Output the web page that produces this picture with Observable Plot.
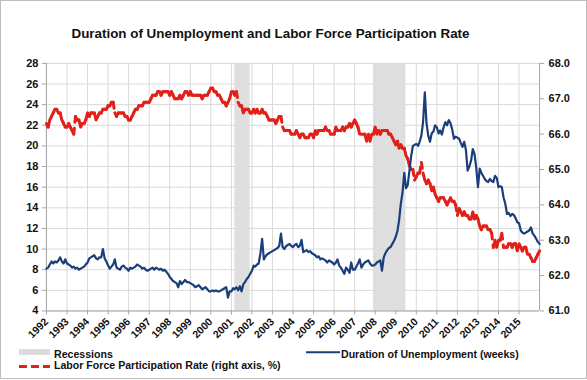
<!DOCTYPE html>
<html><head><meta charset="utf-8">
<script src="https://cdn.jsdelivr.net/npm/d3@7"></script>
<script src="https://cdn.jsdelivr.net/npm/@observablehq/plot@0.6"></script>
<style>
body{margin:0;background:#fff;font-family:"Liberation Sans",Arial,sans-serif;}
#frame{position:relative;width:585px;height:377px;border:1px solid #bdbdbd;overflow:hidden;background:#fff;}
#title{position:absolute;left:0;width:539px;top:25px;line-height:16px;text-align:center;font-weight:bold;font-size:13.4px;color:#111;}
#chart{position:absolute;left:-1px;top:-1px;}
.leg{position:absolute;font-weight:bold;font-size:10.6px;line-height:12px;color:#111;white-space:nowrap;}
.sw{position:absolute;}
</style></head><body>
<div id="frame">
<div id="chart"></div>
<div id="title">Duration of Unemployment and Labor Force Participation Rate</div>
<div class="sw" style="left:18px;top:348px;width:31px;height:6px;background:#dcdcdc"></div>
<div class="leg" style="left:53px;top:347px">Recessions</div>
<svg class="sw" style="left:17px;top:362px" width="34" height="8"><line x1="1" y1="3.5" x2="32" y2="3.5" stroke="#e1201a" stroke-width="3" stroke-dasharray="8,4"/></svg>
<div class="leg" style="left:53px;top:358px">Labor Force Participation Rate (right axis, %)</div>
<svg class="sw" style="left:305px;top:348px" width="34" height="8"><line x1="0" y1="3.3" x2="34" y2="3.3" stroke="#1b3d7a" stroke-width="2"/></svg>
<div class="leg" style="left:340px;top:347px">Duration of Unemployment (weeks)</div>
</div>
<script>
// Monthly, Jan 1992 .. Jan 2016
const durationWeeks = [
  8.1, 8.2, 8.5, 8.8, 8.6, 8.8, 8.7, 8.9, 9.2, 8.8, 8.6, 9.0,   // 1992
  8.6, 8.5, 8.4, 8.2, 8.3, 8.1, 8.2, 8.0, 8.1, 8.2, 8.3, 8.5,   // 1993
  8.7, 9.1, 9.2, 9.3, 9.4, 9.1, 9.0, 9.2, 9.2, 10.0, 9.1, 8.8,  // 1994
  8.4, 8.1, 8.3, 8.5, 9.0, 8.2, 8.1, 8.0, 8.3, 8.4, 8.2, 8.1,   // 1995
  7.9, 8.2, 8.1, 8.2, 8.3, 8.5, 8.4, 8.3, 8.1, 8.2, 8.0, 7.9,   // 1996
  8.0, 8.1, 8.2, 8.0, 8.2, 8.1, 8.0, 8.1, 7.9, 8.0, 7.8, 7.6,   // 1997
  7.3, 7.1, 6.9, 6.8, 6.7, 6.3, 6.9, 6.6, 6.8, 7.0, 6.8, 6.8,   // 1998
  6.7, 6.6, 6.5, 6.3, 6.4, 6.5, 6.3, 6.1, 6.2, 6.3, 6.1, 5.9,   // 1999
  5.9, 6.0, 5.9, 6.0, 5.9, 5.9, 6.0, 6.1, 6.2, 6.3, 5.3, 5.9,   // 2000
  5.9, 6.2, 6.1, 6.3, 6.0, 6.4, 5.9, 6.6, 6.8, 7.1, 7.3, 7.6,   // 2001
  7.9, 8.4, 8.3, 8.5, 8.6, 9.6, 11.0, 9.0, 9.3, 9.5, 9.6, 9.7,  // 2002
  9.8, 9.9, 10.0, 10.1, 10.3, 11.5, 10.2, 10.0, 10.3, 10.4, 10.5, 10.3, // 2003
  10.2, 10.4, 10.5, 10.2, 10.3, 10.9, 9.7, 9.8, 9.9, 9.7, 9.8, 9.6,     // 2004
  9.5, 9.4, 9.2, 9.3, 9.0, 9.1, 9.0, 8.9, 8.7, 8.9, 8.8, 8.7,   // 2005
  8.5, 8.7, 9.0, 8.4, 8.2, 7.9, 7.6, 8.2, 8.0, 7.7, 8.7, 8.0,   // 2006
  8.0, 8.3, 8.6, 9.0, 8.2, 8.5, 8.7, 8.8, 8.9, 8.6, 8.4, 8.4,   // 2007
  8.5, 8.7, 8.8, 8.9, 7.9, 9.2, 9.6, 9.9, 10.1, 10.2, 10.5, 10.8,       // 2008
  11.2, 11.8, 12.8, 14.4, 15.5, 17.4, 15.9, 16.2, 17.6, 19.0, 20.0, 20.1, // 2009
  20.2, 20.0, 20.4, 21.0, 22.3, 25.2, 22.2, 21.0, 20.4, 21.2, 21.4, 22.0, // 2010
  21.8, 21.2, 21.5, 21.1, 21.8, 22.3, 22.0, 22.5, 22.2, 21.6, 20.7, 20.9, // 2011
  20.8, 20.7, 20.3, 19.9, 20.4, 19.6, 17.6, 18.0, 18.6, 19.7, 19.2, 17.9, // 2012
  16.0, 17.8, 17.4, 17.1, 16.8, 16.6, 16.5, 16.8, 16.6, 16.5, 17.1, 16.9, // 2013
  16.0, 16.1, 16.0, 15.0, 14.4, 13.4, 13.5, 13.2, 13.4, 13.3, 13.0, 12.6, // 2014
  12.5, 11.8, 11.6, 11.5, 11.6, 11.7, 11.8, 12.1, 11.5, 11.3, 11.0, 10.7, // 2015
  10.5                                                                      // 2016
];
const participationRate = [
  66.3, 66.2, 66.4, 66.5, 66.6, 66.7, 66.7, 66.6, 66.6, 66.4, 66.3, 66.2, // 1992
  66.2, 66.3, 66.2, 66.1, 66.0, 66.5, 66.4, 66.4, 66.2, 66.3, 66.3, 66.4, // 1993
  66.6, 66.5, 66.6, 66.6, 66.6, 66.4, 66.5, 66.6, 66.6, 66.7, 66.7, 66.7, // 1994
  66.8, 66.8, 66.9, 66.9, 66.6, 66.5, 66.6, 66.6, 66.6, 66.6, 66.5, 66.5, // 1995
  66.4, 66.4, 66.5, 66.6, 66.7, 66.7, 66.8, 66.8, 66.8, 66.9, 66.9, 66.9, // 1996
  66.9, 67.0, 67.1, 67.1, 67.1, 67.2, 67.2, 67.1, 67.2, 67.2, 67.2, 67.2, // 1997
  67.1, 67.2, 67.1, 67.0, 67.0, 67.0, 67.1, 67.0, 67.1, 67.2, 67.2, 67.1, // 1998
  67.2, 67.1, 67.1, 67.1, 67.1, 67.1, 67.1, 67.0, 67.1, 67.1, 67.1, 67.2, // 1999
  67.3, 67.3, 67.2, 67.2, 67.1, 67.1, 67.0, 66.9, 66.9, 66.8, 66.9, 67.0, // 2000
  67.2, 67.2, 67.1, 67.2, 66.9, 66.8, 66.8, 66.6, 66.7, 66.7, 66.7, 66.6, // 2001
  66.6, 66.7, 66.6, 66.7, 66.6, 66.6, 66.7, 66.6, 66.6, 66.5, 66.4, 66.4, // 2002
  66.4, 66.4, 66.3, 66.4, 66.5, 66.5, 66.2, 66.1, 66.1, 66.1, 66.1, 66.0, // 2003
  66.0, 66.0, 66.1, 66.0, 65.9, 66.0, 66.0, 65.9, 65.9, 65.9, 66.0, 66.0, // 2004
  65.9, 66.1, 66.0, 66.1, 66.1, 66.1, 66.1, 66.2, 66.1, 66.1, 66.0, 66.0, // 2005
  66.0, 66.2, 66.1, 66.1, 66.1, 66.2, 66.1, 66.2, 66.2, 66.3, 66.2, 66.3, // 2006
  66.4, 66.3, 66.2, 66.0, 66.0, 66.0, 66.0, 65.8, 66.0, 65.8, 66.0, 66.0, // 2007
  66.2, 66.0, 66.1, 66.0, 66.1, 66.1, 66.1, 66.1, 66.0, 66.0, 65.9, 65.8, // 2008
  65.7, 65.8, 65.6, 65.7, 65.6, 65.6, 65.4, 65.3, 65.1, 65.0, 65.0, 64.7, // 2009
  64.8, 64.9, 64.9, 65.2, 64.9, 64.7, 64.6, 64.7, 64.6, 64.4, 64.5, 64.3, // 2010
  64.2, 64.1, 64.2, 64.2, 64.2, 64.1, 64.0, 64.1, 64.2, 64.1, 64.1, 64.0, // 2011
  63.7, 63.9, 63.8, 63.7, 63.8, 63.7, 63.7, 63.6, 63.6, 63.8, 63.6, 63.7, // 2012
  63.6, 63.4, 63.3, 63.4, 63.4, 63.4, 63.3, 63.3, 63.2, 62.8, 63.0, 62.8, // 2013
  63.0, 63.0, 63.2, 62.8, 62.8, 62.8, 62.9, 62.9, 62.8, 62.9, 62.9, 62.7, // 2014
  62.9, 62.8, 62.7, 62.8, 62.8, 62.6, 62.6, 62.5, 62.4, 62.4, 62.5, 62.6, // 2015
  62.7                                                                      // 2016
];
const yearLabels = d3.range(1992, 2016);
const leftTicks = [4, 6, 8, 10, 12, 14, 16, 18, 20, 22, 24, 26, 28];
const rightTicks = [61, 62, 63, 64, 65, 66, 67, 68];
const recessionStart = ["2001-03-01", "2007-12-01"];
const recessionEnd = ["2001-12-01", "2009-07-01"];

const start = new Date(Date.UTC(1992, 0, 1));
const end = new Date(Date.UTC(2016, 0, 1));
const month = i => d3.utcMonth.offset(start, i);
const toLeft = r => 4 + (r - 61) * 24 / 7;
const fromLeft = v => 61 + (v - 4) * 7 / 24;

const blue = durationWeeks.map((v, i) => ({date: month(i), v}));
const red = participationRate.map((r, i) => ({date: month(i), v: toLeft(r)}));
const redSegs = red.slice(1).map((d, i) => ({x1: red[i].date, y1: red[i].v, x2: d.date, y2: d.v}));
const recessions = recessionStart.map((s, i) => ({start: new Date(s), end: new Date(recessionEnd[i])}));
const yearDates = yearLabels.map(y => new Date(Date.UTC(y, 0, 1)));

const gridColor = "#d9d9d9";
const axisColor = "#a6a6a6";

const chart = Plot.plot({
  width: 587,
  height: 345,
  marginLeft: 46,
  marginRight: 47,
  marginTop: 63,
  marginBottom: 34,
  style: {fontFamily: "'Liberation Sans', Arial, sans-serif", fontSize: "11px", fontWeight: "bold", color: "#111", background: "transparent", overflow: "visible"},
  x: {type: "utc", domain: [start, end], axis: null},
  y: {domain: [4, 28], axis: null},
  marks: [
    Plot.gridX(yearDates, {stroke: gridColor, strokeOpacity: 1}),
    Plot.gridY(leftTicks, {stroke: gridColor, strokeOpacity: 1}),
    Plot.rect(recessions, {x1: "start", x2: "end", fill: "#dcdcdc", fillOpacity: 0.9}),
    Plot.ruleX([start, end], {stroke: axisColor}),
    Plot.ruleY([4], {stroke: axisColor}),
    Plot.axisY(leftTicks, {anchor: "left", tickSize: 4, tickPadding: 4, stroke: axisColor, fill: "#111", fontSize: 11}),
    Plot.axisY(rightTicks.map(toLeft), {anchor: "right", tickSize: 4, tickPadding: 5, stroke: axisColor, fill: "#111", fontSize: 11, tickFormat: v => fromLeft(v).toFixed(1)}),
    Plot.axisX(yearDates, {anchor: "bottom", tickSize: 4, tickPadding: 5, tickRotate: -45, stroke: axisColor, fill: "#111", fontSize: 10.5, tickFormat: d3.utcFormat("%Y")}),
    Plot.link(redSegs, {x1: "x1", y1: "y1", x2: "x2", y2: "y2", stroke: "#e1201a", strokeWidth: 3, strokeDasharray: "6,6", strokeLinecap: "round"}),
    Plot.line(blue, {x: "date", y: "v", stroke: "#1b3d7a", strokeWidth: 2.2})
  ]
});
document.getElementById("chart").appendChild(chart);
</script>
</body></html>
